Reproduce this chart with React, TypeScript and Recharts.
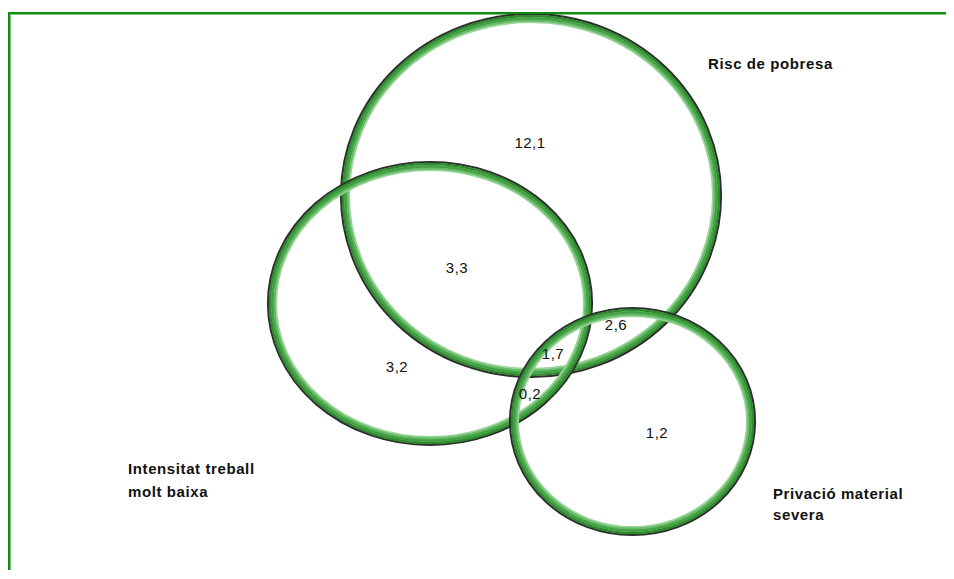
import React from 'react';
import { ScatterChart, Scatter, XAxis, YAxis } from 'recharts';

// Layout units: 1 unit ≈ 1 px of the plotting area
const CHART_W = 944;
const CHART_H = 556;
const X_DOMAIN: [number, number] = [0, 944];
const Y_DOMAIN: [number, number] = [0, 556];

// Sets (ellipse centre and radii in layout units)
const setNames = ['Risc de pobresa', 'Intensitat treball molt baixa', 'Privació material severa'];
const setCx = [521, 420, 622.5];
const setCy = [181.5, 289.5, 407.5];
const setRx = [186, 158, 118.5];
const setRy = [177.5, 137.5, 109.5];

// Region values
const regionLabels = ['12,1', '3,3', '3,2', '1,7', '2,6', '0,2', '1,2'];
const regionX = [520, 447, 387, 543, 606, 520, 647];
const regionY = [128, 253, 352, 339, 310, 379, 418];

// Set name labels (each line)
const nameLines = ['Risc de pobresa', 'Intensitat treball', 'molt baixa', 'Privació material', 'severa'];
const nameX = [698, 118, 118, 763, 763];
const nameY = [49, 454, 477, 479, 500];

const circleData = setNames.map((n, i) => ({ name: n, x: setCx[i], y: setCy[i], rx: setRx[i], ry: setRy[i] }));
const regionData = regionLabels.map((l, i) => ({ label: l, x: regionX[i], y: regionY[i] }));
const nameData = nameLines.map((l, i) => ({ label: l, x: nameX[i], y: nameY[i] }));

const PX_X = CHART_W / (X_DOMAIN[1] - X_DOMAIN[0]);
const PX_Y = CHART_H / (Y_DOMAIN[1] - Y_DOMAIN[0]);

const Ring = (props: any) => {
  const { cx, cy, payload } = props;
  const rx = payload.rx * PX_X;
  const ry = payload.ry * PX_Y;
  const layer = (d: number, w: number, c: string) => (
    <ellipse cx={cx} cy={cy} rx={rx + d} ry={ry + d} fill="none" stroke={c} strokeWidth={w} />
  );
  return (
    <g>
      {layer(4.0, 2.2, '#2b2f2b')}
      {layer(2.0, 2.6, '#2f8a2f')}
      {layer(-0.4, 3, '#43a043')}
      {layer(-2.7, 2.4, '#66ba66')}
      {layer(-4.2, 1.6, '#98d598')}
    </g>
  );
};

const RegionText = (props: any) => {
  const { cx, cy, payload } = props;
  return (
    <text x={cx} y={cy} textAnchor="middle" dominantBaseline="central" fontFamily="'Liberation Sans', Arial, sans-serif" fontSize={15} letterSpacing={0.5} fill="#111">
      {payload.label}
    </text>
  );
};

const NameText = (props: any) => {
  const { cx, cy, payload } = props;
  return (
    <text x={cx} y={cy} textAnchor="start" dominantBaseline="central" fontFamily="'Liberation Sans', Arial, sans-serif" fontSize={15} fontWeight="bold" letterSpacing={0.6} fill="#111">
      {payload.label}
    </text>
  );
};

export default function App() {
  return (
    <div style={{ paddingTop: 4 }}>
      <div
        style={{
          width: CHART_W,
          borderTop: '2px solid #138a13',
          borderLeft: '2px solid #138a13',
          boxShadow: 'inset 1px 1px 0 #7ccf7c',
          background: '#fff',
        }}
      >
        <ScatterChart width={CHART_W} height={CHART_H} margin={{ top: 0, right: 0, bottom: 0, left: 0 }}>
          <XAxis type="number" dataKey="x" domain={X_DOMAIN} hide allowDataOverflow />
          <YAxis type="number" dataKey="y" domain={Y_DOMAIN} reversed hide allowDataOverflow />
          <Scatter data={circleData} shape={Ring} isAnimationActive={false} />
          <Scatter data={regionData} shape={RegionText} isAnimationActive={false} />
          <Scatter data={nameData} shape={NameText} isAnimationActive={false} />
        </ScatterChart>
      </div>
    </div>
  );
}
